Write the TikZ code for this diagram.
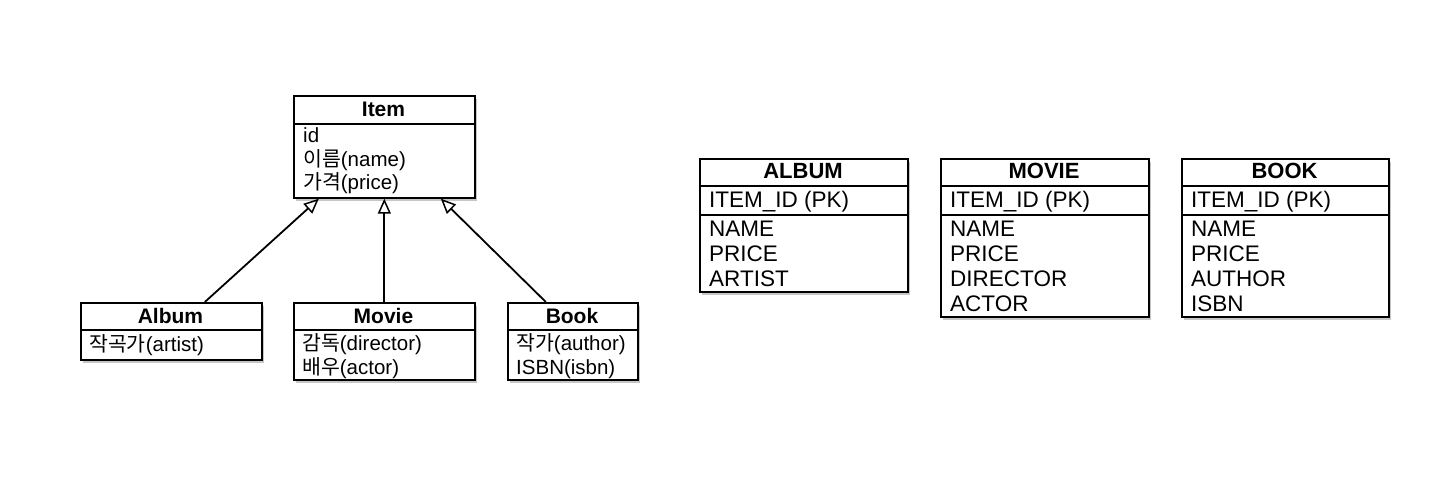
\documentclass[tikz,border=0pt]{standalone}
\usepackage{fontspec}
\setmainfont{Liberation Sans}
\newfontfamily\kr{Noto Sans CJK KR}
\usetikzlibrary{arrows.meta,shadows}
\tikzset{
  box/.style={draw, line width=1.7pt, fill=white, anchor=north west, inner sep=0pt,
    drop shadow={shadow xshift=1.8pt, shadow yshift=-2.8pt, opacity=0.45}},
  umltitle/.style={anchor=base, inner sep=0pt, font=\fontsize{21}{24}\selectfont\bfseries},
  umlattr/.style={anchor=base west, inner sep=0pt, font=\fontsize{20.5}{24}\selectfont},
  tbltitle/.style={anchor=base, inner sep=0pt, font=\fontsize{22}{26}\selectfont\bfseries},
  tblattr/.style={anchor=base west, inner sep=0pt, font=\fontsize{22.5}{26}\selectfont},
  sep/.style={line width=1.7pt},
  inh/.style={line width=1.8pt, -{Triangle[fill=white, length=15pt, width=13pt, line width=1.5pt]}}
}
\begin{document}
\begin{tikzpicture}[x=1pt,y=-1pt]
\useasboundingbox (0,0) rectangle (1446,486);
% ---------- UML classes ----------
\node[box, minimum width=181pt, minimum height=102pt] (item) at (293,95) {};
\draw[sep] ([yshift=-29pt]item.north west) -- ([yshift=-29pt]item.north east);
\node[umltitle] (itemT) at (383.5,116.5) {Item};
\node[umlattr] (itemA1) at (303,143) {id};
\node[umlattr] (itemA2) at (303,166.5) {{\kr 이름}(name)};
\node[umlattr] (itemA3) at (303,190) {{\kr 가격}(price)};

\node[box, minimum width=181pt, minimum height=57pt] (album) at (80,302) {};
\draw[sep] ([yshift=-28pt]album.north west) -- ([yshift=-28pt]album.north east);
\node[umltitle] (albumT) at (170.5,323.5) {Album};
\node[umlattr] (albumA1) at (89,352) {{\kr 작곡가}(artist)};

\node[box, minimum width=181pt, minimum height=77pt] (movie) at (293,302) {};
\draw[sep] ([yshift=-28pt]movie.north west) -- ([yshift=-28pt]movie.north east);
\node[umltitle] (movieT) at (383.5,323.5) {Movie};
\node[umlattr] (movieA1) at (302,350) {{\kr 감독}(director)};
\node[umlattr] (movieA2) at (302,374.5) {{\kr 배우}(actor)};

\node[box, minimum width=130pt, minimum height=77pt] (book) at (507,302) {};
\draw[sep] ([yshift=-28pt]book.north west) -- ([yshift=-28pt]book.north east);
\node[umltitle] (bookT) at (572,323.5) {Book};
\node[umlattr] (bookA1) at (516,350) {{\kr 작가}(author)};
\node[umlattr] (bookA2) at (516,374.5) {ISBN(isbn)};

\draw[inh] ([xshift=33.5pt]album.north) -- ([xshift=-65.5pt]item.south);
\draw[inh] (movie.north) -- (item.south);
\draw[inh] ([xshift=-27pt]book.north) -- ([xshift=56.5pt]item.south);

% ---------- Tables ----------
\node[box, minimum width=208pt, minimum height=133pt] (talbum) at (699,158) {};
\draw[sep] ([yshift=-28pt]talbum.north west) -- ([yshift=-28pt]talbum.north east);
\draw[sep] ([yshift=-57pt]talbum.north west) -- ([yshift=-57pt]talbum.north east);
\node[tbltitle] (talbumT) at (803,179) {ALBUM};
\node[tblattr] (talbumPK) at (709,208) {ITEM\_ID (PK)};
\node[tblattr] (talbumA1) at (709,237) {NAME};
\node[tblattr] (talbumA2) at (709,262) {PRICE};
\node[tblattr] (talbumA3) at (709,287) {ARTIST};

\node[box, minimum width=208pt, minimum height=158pt] (tmovie) at (940,158) {};
\draw[sep] ([yshift=-28pt]tmovie.north west) -- ([yshift=-28pt]tmovie.north east);
\draw[sep] ([yshift=-57pt]tmovie.north west) -- ([yshift=-57pt]tmovie.north east);
\node[tbltitle] (tmovieT) at (1044,179) {MOVIE};
\node[tblattr] (tmoviePK) at (950,208) {ITEM\_ID (PK)};
\node[tblattr] (tmovieA1) at (950,237) {NAME};
\node[tblattr] (tmovieA2) at (950,262) {PRICE};
\node[tblattr] (tmovieA3) at (950,287) {DIRECTOR};
\node[tblattr] (tmovieA4) at (950,312) {ACTOR};

\node[box, minimum width=207pt, minimum height=158pt] (tbook) at (1181,158) {};
\draw[sep] ([yshift=-28pt]tbook.north west) -- ([yshift=-28pt]tbook.north east);
\draw[sep] ([yshift=-57pt]tbook.north west) -- ([yshift=-57pt]tbook.north east);
\node[tbltitle] (tbookT) at (1284.5,179) {BOOK};
\node[tblattr] (tbookPK) at (1191,208) {ITEM\_ID (PK)};
\node[tblattr] (tbookA1) at (1191,237) {NAME};
\node[tblattr] (tbookA2) at (1191,262) {PRICE};
\node[tblattr] (tbookA3) at (1191,287) {AUTHOR};
\node[tblattr] (tbookA4) at (1191,312) {ISBN};
\end{tikzpicture}
\end{document}
